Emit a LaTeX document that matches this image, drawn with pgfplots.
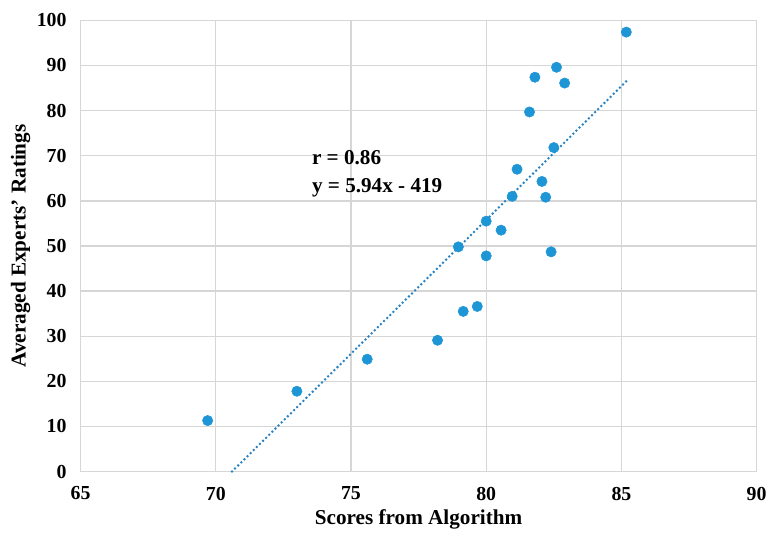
\documentclass[border={5pt 2pt 0pt 7pt}]{standalone}
\usepackage{fontspec}
\setmainfont{Liberation Serif}
\usepackage{pgfplots}
\pgfplotsset{compat=1.18}
\definecolor{ptblue}{RGB}{30,150,214}
\definecolor{trendblue}{RGB}{40,130,195}
\definecolor{gridgray}{RGB}{214,214,214}

\begin{document}
\begin{tikzpicture}
\begin{axis}[
  scale only axis,
  width=511pt, height=341pt,
  xmin=65, xmax=90, ymin=0, ymax=100,
  xtick={65,70,...,90}, ytick={0,10,...,100},
  grid=major,
  major grid style={gridgray, line width=1pt},
  axis line style={gridgray, line width=1pt},
  axis x line*=bottom, axis y line*=left,
  tick style={draw=none},
  tick label style={font=\fontsize{15}{17}\selectfont\bfseries},
  xticklabel style={yshift=-8pt},
  yticklabel style={xshift=-7pt},
  /pgf/number format/assume math mode=true,
  xlabel={Scores from Algorithm},
  ylabel={Averaged Experts' Ratings},
  label style={font=\fontsize{16}{18}\selectfont\bfseries},
  xlabel style={yshift=0pt},
  ylabel style={yshift=-2pt},
  clip=false,
]
\addplot[trendblue, line width=2.1pt, dash pattern=on 0pt off 3.3pt, line cap=round]
  coordinates {(70.6,0) (85.18,86.5)};
\addplot[only marks, mark=*, mark size=3.9pt, mark options={draw=ptblue, fill=ptblue}]
  coordinates {
    (69.7,11.3) (73.0,17.8) (75.6,24.9) (78.2,29.1) (79.15,35.5) (79.67,36.6)
    (78.97,49.8) (80.0,47.8) (80.0,55.5) (80.55,53.5) (80.96,61.0) (81.14,67.0)
    (82.06,64.3) (82.2,60.8) (82.4,48.7) (82.5,71.8) (81.6,79.7) (81.8,87.4)
    (82.6,89.6) (82.9,86.1) (85.18,97.4)
  };
\node[anchor=west, align=left, font=\fontsize{16}{19}\selectfont\bfseries, inner sep=0pt]
  at (axis cs:73.55,66) {r = 0.86\\[2pt]y = 5.94x - 419};
\end{axis}
\end{tikzpicture}
\end{document}
